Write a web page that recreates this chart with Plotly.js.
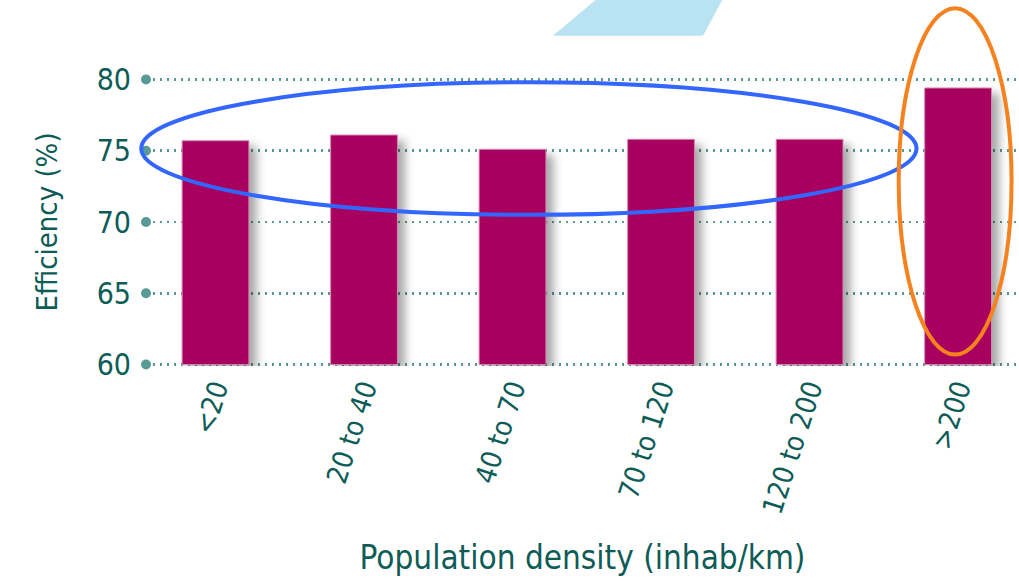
<!DOCTYPE html>
<html>
<head>
<meta charset="utf-8">
<script src="https://cdn.plot.ly/plotly-3.0.1.min.js"></script>
<style>
html,body{margin:0;padding:0;background:#fff;}
#chart{width:1019px;height:581px;}
#chart .trace.bars .point path{filter:drop-shadow(7px 6px 5px rgba(0,0,0,0.35));}
</style>
</head>
<body>
<div id="chart"></div>
<script>
const categories = ["<20", "20 to 40", "40 to 70", "70 to 120", "120 to 200", ">200"];
const efficiency = [75.7, 76.1, 75.1, 75.8, 75.8, 79.4];
const yTicks = [60, 65, 70, 75, 80];
const yTickLabels = ["60", "65", "70", "75", "80"];

const yRange = [59.9, 80.1];
const xRange = [-0.468, 5.41];
const toPaperY = v => (v - yRange[0]) / (yRange[1] - yRange[0]);
const toPaperX = c => (c - xRange[0]) / (xRange[1] - xRange[0]);

const teal = "#0e5c58";
const gridTeal = "#5a9a96";
const font = "'DejaVu Sans Condensed', 'DejaVu Sans', sans-serif";

const shapes = [];
// dots at left end of each grid line
yTicks.forEach(v => shapes.push({
  type: "circle", xref: "paper", yref: "paper",
  xsizemode: "pixel", ysizemode: "pixel",
  xanchor: 0, yanchor: toPaperY(v), x0: -5, x1: 5, y0: -5, y1: 5,
  fillcolor: gridTeal, line: {width: 0}, layer: "above"
}));
// decorative light-blue parallelogram at the top
shapes.push({
  type: "path", xref: "paper", yref: "paper",
  path: "M 0.466 1.147 L 0.638 1.147 L 0.661 1.276 L 0.517 1.276 Z",
  fillcolor: "#b9e2f3", line: {width: 0}, layer: "below"
});
// blue highlight ellipse (first five groups)
shapes.push({
  type: "circle", xref: "paper", yref: "paper",
  x0: toPaperX(-0.5), x1: toPaperX(4.72), y0: toPaperY(70.5), y1: toPaperY(79.8),
  line: {color: "#3366ff", width: 4}, layer: "above"
});
// orange highlight ellipse (last group)
shapes.push({
  type: "circle", xref: "paper", yref: "paper",
  x0: toPaperX(4.6), x1: toPaperX(5.36), y0: toPaperY(60.7), y1: toPaperY(85.0),
  line: {color: "#f5821f", width: 4}, layer: "above"
});

Plotly.newPlot("chart", [{
  type: "bar",
  x: categories,
  y: efficiency,
  base: 60,
  width: 0.45,
  marker: {color: "#a8005e", line: {color: "#d58ab2", width: 1}},
  hoverinfo: "x+y"
}].map(t => Object.assign(t, {y: efficiency.map(v => v - 60)})), {
  width: 1019, height: 581,
  margin: {l: 146, r: 0, t: 78, b: 215, pad: 0},
  paper_bgcolor: "#ffffff", plot_bgcolor: "#ffffff",
  showlegend: false,
  font: {family: font, color: teal},
  xaxis: {
    type: "category",
    range: xRange,
    showgrid: false, zeroline: false, showline: false, ticks: "",
    tickangle: -72,
    tickfont: {family: font, size: 28, color: teal},
    title: {text: "Population density (inhab/km)", font: {family: font, size: 33, color: teal}, standoff: 28}
  },
  yaxis: {
    range: yRange,
    tickvals: yTicks, ticktext: yTickLabels,
    showgrid: true, gridcolor: gridTeal, gridwidth: 2.5, griddash: "2px,5px",
    zeroline: false, showline: false, ticks: "",
    ticklabelstandoff: 14,
    tickfont: {family: font, size: 30, color: teal},
    title: {text: "Efficiency (%)", font: {family: font, size: 29, color: teal}, standoff: 30}
  },
  shapes: shapes
}, {displayModeBar: false, staticPlot: true});
</script>
</body>
</html>
